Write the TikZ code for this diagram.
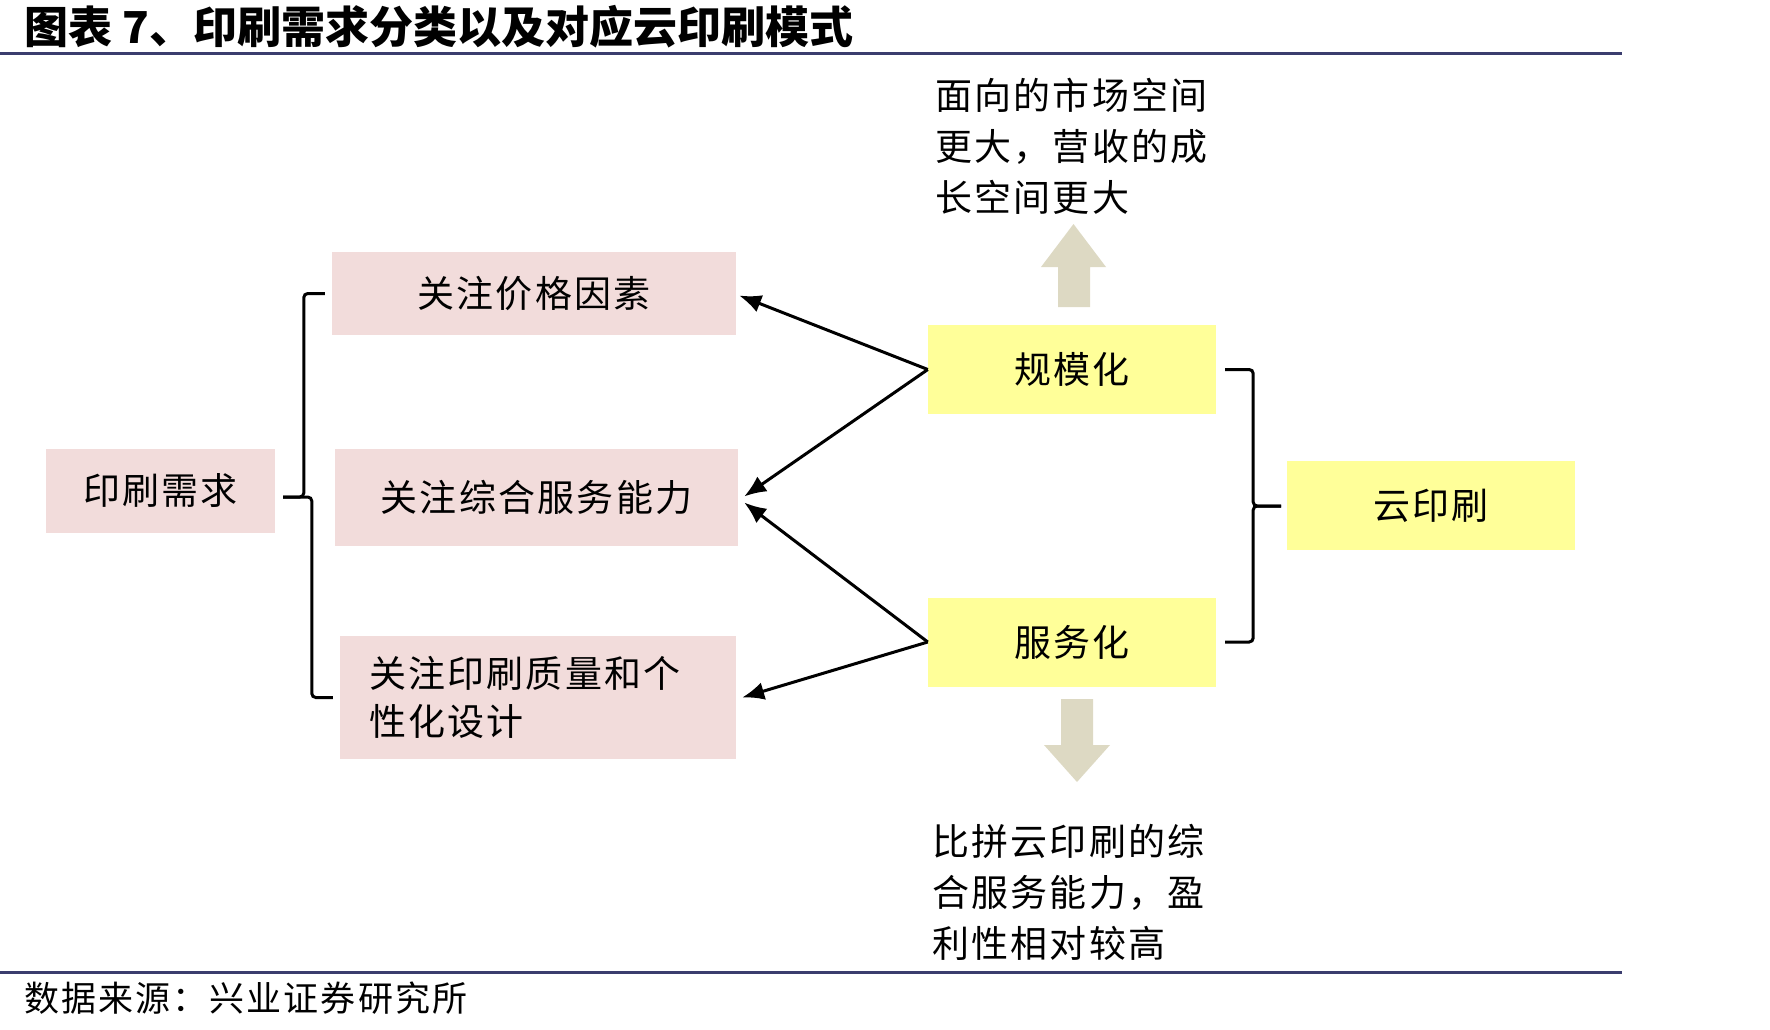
\documentclass[tikz,border=0pt]{standalone}
\usepackage{fontspec}
\setmainfont{Noto Sans CJK SC}[LetterSpace=6]
\newfontfamily\ttlfont{Noto Sans CJK SC}
\usepackage{tikz}
\usetikzlibrary{arrows.meta}
\definecolor{rule}{HTML}{3B3D6E}
\definecolor{rose}{HTML}{F2DCDB}
\definecolor{lemon}{HTML}{FFFF99}
\definecolor{sand}{HTML}{DDD9C3}
\tikzset{need/.style={fill=rose,inner sep=0pt,minimum height=83pt,font=\fontsize{37}{48}\selectfont},
  mode/.style={fill=lemon,inner sep=0pt,minimum width=288pt,minimum height=89pt,font=\fontsize{37}{48}\selectfont},
  arr/.style={-{Latex[length=22pt,width=18pt]},line width=3pt},
  brk/.style={line width=3pt,rounded corners=4pt},
  note/.style={anchor=north west,align=left,inner sep=0pt,font=\fontsize{37}{51}\selectfont}}
\begin{document}
\begin{tikzpicture}[x=1pt,y=-1pt]
\useasboundingbox (0,0) rectangle (1770,1029);
\node[anchor=west,inner sep=0pt,font=\ttlfont\bfseries\fontsize{44}{44}\selectfont] (ttl) at (24,27) {图表 7、印刷需求分类以及对应云印刷模式};
\draw[rule,line width=3pt] (0,53) -- (1622,53);
\draw[rule,line width=3pt] (0,972) -- (1622,972);
\node[anchor=west,inner sep=0pt,font=\fontsize{35}{35}\selectfont] (src) at (24,998) {数据来源：兴业证券研究所};
\node[need,minimum width=229pt,minimum height=84pt] (xq) at (160.5,491) {印刷需求};
\node[need,minimum width=404pt] (jg) at (534,293.5) {关注价格因素};
\node[need,minimum width=403pt,minimum height=97pt] (zh) at (536.5,497.5) {关注综合服务能力};
\node[need,minimum width=396pt,minimum height=123pt,text width=338pt,inner xsep=29pt,align=left] (zl) at (538,697.5) {关注印刷质量和个\\性化设计};
\node[mode] (gm) at (1072,369.5) {规模化};
\node[mode] (fw) at (1072,642) {服务化};
\node[mode] (yy) at (1431,505.5) {云印刷};
\coordinate (lt) at (283,497);
\coordinate (rt) at (1281,506);
\draw[brk] ([xshift=-7pt]jg.west) -- ++(-21,0) |- (lt);
\draw[brk] ([xshift=-7pt]zl.west) -- ++(-21,0) |- (lt);
\draw[brk] ([xshift=9pt]gm.east) -- ++(28,0) |- (rt);
\draw[brk] ([xshift=9pt]fw.east) -- ++(28,0) |- (rt);
\draw[arr] (gm.west) -- ([shift={(3,2)}]jg.east);
\draw[arr] (gm.west) -- ([shift={(6,-1)}]zh.east);
\draw[arr] (fw.west) -- ([shift={(6,5)}]zh.east);
\draw[arr] (fw.west) -- ([xshift=6pt]zl.east);
\fill[sand] (1058,307) -- (1058,267) -- (1041,267) -- (1073.5,224) -- (1106,267) -- (1090,267) -- (1090,307) -- cycle;
\fill[sand] (1061,699) -- (1093,699) -- (1093,745) -- (1110,745) -- (1077,782) -- (1044,745) -- (1061,745) -- cycle;
\node[note] (up) at (935,78) {面向的市场空间\\更大，营收的成\\长空间更大};
\node[note] (dn) at (932,824) {比拼云印刷的综\\合服务能力，盈\\利性相对较高};
\end{tikzpicture}
\end{document}
